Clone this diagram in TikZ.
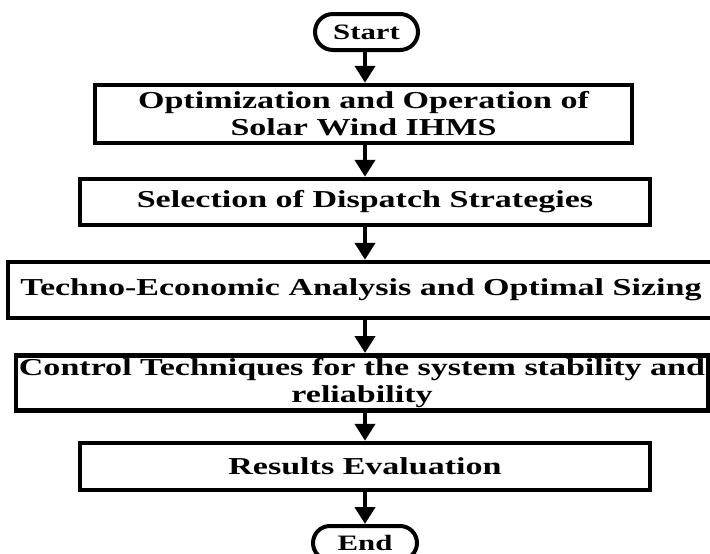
\documentclass[tikz,border=0pt]{standalone}
\usepackage{fontspec}
\newfontfamily\boxfont{Liberation Serif}[FakeStretch=1.40]
\usetikzlibrary{arrows.meta,shapes.misc}
\begin{document}
\begin{tikzpicture}[x=1pt,y=-1pt,
  boxtext/.style={font=\boxfont\bfseries\fontsize{24.3}{27}\selectfont},
  box/.style={draw,line width=4.5pt,rectangle,inner sep=0pt,align=center,boxtext},
  term/.style={draw,line width=4pt,rounded rectangle,inner sep=0pt,
    font=\boxfont\bfseries\fontsize{22}{24}\selectfont},
  arr/.style={line width=4.5pt,-{Triangle[width=20pt,length=17pt]}}]
\useasboundingbox (0,0) rectangle (710,554);
\node[term,minimum width=103pt,minimum height=36pt] (start) at (366.5,32) {Start};
\node[box,minimum width=537pt,minimum height=58pt] (b1) at (363.5,114) {Optimization and Operation of\\Solar Wind IHMS};
\node[box,minimum width=570pt,minimum height=46pt] (b2) at (365,202) {Selection of Dispatch Strategies};
\node[box,minimum width=706pt,minimum height=56pt] (b3) at (361,290) {Techno-Economic Analysis and Optimal Sizing};
\node[box,minimum width=692pt,minimum height=55pt,anchor=north] (b4) at (362,353) {};
\node[boxtext,align=center,anchor=north,inner sep=0pt] (t4) at (b4.north) {\rule{0pt}{22pt}Control Techniques for the system stability and\\reliability};
\node[box,minimum width=570pt,minimum height=47pt] (b5) at (365,466.5) {Results Evaluation};
\node[term,minimum width=104pt,minimum height=34pt] (end) at (365,543) {End};
\draw[arr] (start.south -| 365,0) -- (b1.north -| 365,0);
\draw[arr] (b1.south -| 365,0) -- (b2.north -| 365,0);
\draw[arr] (b2.south -| 365,0) -- (b3.north -| 365,0);
\draw[arr] (b3.south -| 365,0) -- (b4.north -| 365,0);
\draw[arr] (b4.south -| 365,0) -- (b5.north -| 365,0);
\draw[arr] (b5.south -| 365,0) -- (end.north -| 365,0);
\end{tikzpicture}
\end{document}
